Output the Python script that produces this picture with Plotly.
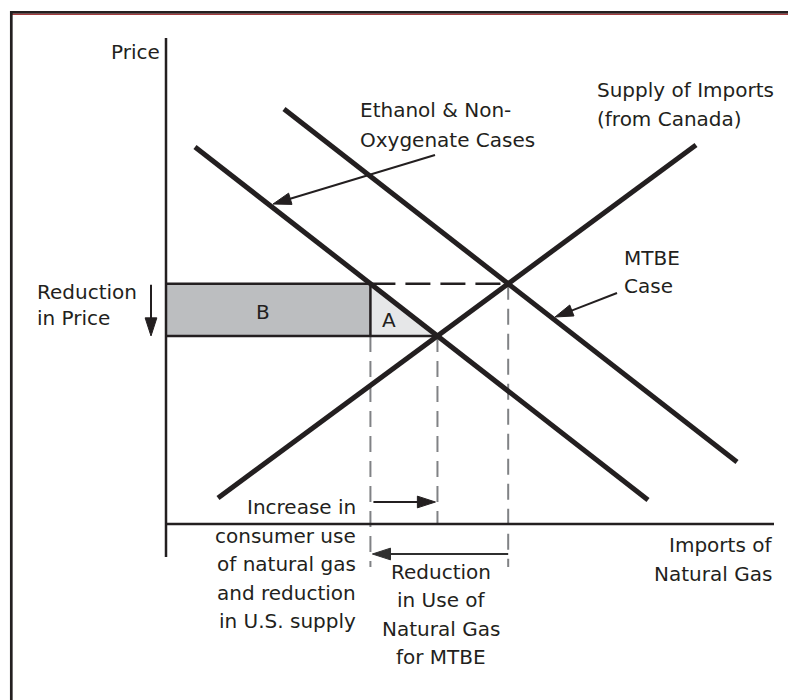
import numpy as np
import plotly.graph_objects as go

W, H = 788, 700
OX, OY = 166, 524  # pixel position of the diagram origin (axes corner)

# ---- Diagram data (quantity, price), origin at the axes corner ----
supply_q = [52, 530]
supply_p = [26, 379]
ethanol_q = [29, 482]
ethanol_p = [377, 24]
mtbe_q = [118, 571]
mtbe_p = [415, 62]

price_axis_p = [486, -33]
quantity_axis_q = [0, 608]

INK = "#231f20"
GREY = "#808285"
FONT = "DejaVu Sans"
FS = 20


def line_coef(q, p):
    m = (p[1] - p[0]) / (q[1] - q[0])
    return m, p[0] - m * q[0]


def intersect(a, b):
    m1, c1 = line_coef(*a)
    m2, c2 = line_coef(*b)
    q = (c2 - c1) / (m1 - m2)
    return q, m1 * q + c1


def q_at(line, p):
    m, c = line_coef(*line)
    return (p - c) / m


S = (supply_q, supply_p)
D_eth = (ethanol_q, ethanol_p)
D_mtbe = (mtbe_q, mtbe_p)
q_new, p_new = intersect(S, D_eth)     # equilibrium, ethanol case
q_old, p_old = intersect(S, D_mtbe)    # equilibrium, MTBE case
q_dem = q_at(D_eth, p_old)             # ethanol demand at the old price


def X(px):
    return px - OX


def Y(py):
    return OY - py


fig = go.Figure()

# Area B
fig.add_trace(go.Scatter(x=[0, q_dem, q_dem, 0, 0], y=[p_old, p_old, p_new, p_new, p_old],
                         fill="toself", fillcolor="#bcbec0", mode="lines",
                         line=dict(width=0), hoverinfo="skip"))
# Area A
fig.add_trace(go.Scatter(x=[q_dem, q_dem, q_new, q_dem], y=[p_old, p_new, p_new, p_old],
                         fill="toself", fillcolor="#e6e7e8", mode="lines",
                         line=dict(width=0), hoverinfo="skip"))

# grey vertical dashed guides
bottom = Y(567)
for xs, ys in [([q_dem, q_dem], [p_new, bottom]),
               ([q_new, q_new], [p_new, 0]),
               ([q_old, q_old], [p_old, bottom])]:
    fig.add_trace(go.Scatter(x=xs, y=ys, mode="lines",
                             line=dict(color=GREY, width=2, dash="16px,9px"), hoverinfo="skip"))

# old price dashed line
fig.add_trace(go.Scatter(x=[q_dem, q_old], y=[p_old, p_old], mode="lines",
                         line=dict(color=INK, width=2.5, dash="25px,10px"), hoverinfo="skip"))

# borders of B and A
fig.add_trace(go.Scatter(x=[0, q_dem, q_dem, 0, q_new], y=[p_old, p_old, p_new, p_new, p_new],
                         mode="lines", line=dict(color=INK, width=2.5), hoverinfo="skip"))

# curves
for q, p in [S, D_eth, D_mtbe]:
    fig.add_trace(go.Scatter(x=q, y=p, mode="lines", line=dict(color=INK, width=5),
                             hoverinfo="skip"))

# axes
fig.add_trace(go.Scatter(x=[0, 0], y=price_axis_p, mode="lines",
                         line=dict(color=INK, width=2.5), hoverinfo="skip"))
fig.add_trace(go.Scatter(x=quantity_axis_q, y=[0, 0], mode="lines",
                         line=dict(color=INK, width=2.5), hoverinfo="skip"))


def arrow(x0, y0, x1, y1, color=INK, size=19):
    fig.add_trace(go.Scatter(x=[x0, x1], y=[y0, y1], mode="lines+markers",
                             line=dict(color=color, width=2),
                             marker=dict(symbol="arrow", size=[0, size], angleref="previous",
                                         color=color, opacity=1,
                                         line=dict(width=1, color=color)),
                             hoverinfo="skip"))


arrow(X(151), p_old - 1, X(151), p_new)                 # reduction in price
arrow(q_dem + 3, Y(502), q_new - 2, Y(502))              # increase in consumer use
arrow(q_old, Y(554), q_dem + 2, Y(554), color="#2f2f2f")  # reduction in use
arrow(X(435), Y(155), X(273), Y(204))                    # label -> ethanol curve
arrow(X(617), Y(293), X(555), Y(317))                    # label -> MTBE curve

# ---- texts ----
texts = [
    ("Price", 162, 52, "right"),
    ("Ethanol & Non-", 358, 110, "left"),
    ("Oxygenate Cases", 358, 139.5, "left"),
    ("Supply of Imports", 595, 89.5, "left"),
    ("(from Canada)", 595, 119, "left"),
    ("MTBE", 622, 257.5, "left"),
    ("Case", 622, 285.5, "left"),
    ("Reduction", 35, 291.5, "left"),
    ("in Price", 35, 318, "left"),
    ("B", 263, 312, "center"),
    ("A", 389, 320, "center"),
    ("Increase in", 358, 507, "right"),
    ("consumer use", 358, 535.5, "right"),
    ("of natural gas", 358, 564, "right"),
    ("and reduction", 358, 592.5, "right"),
    ("in U.S. supply", 358, 621, "right"),
    ("Reduction", 441, 571.5, "center"),
    ("in Use of", 441, 600, "center"),
    ("Natural Gas", 441, 628.5, "center"),
    ("for MTBE", 441, 657, "center"),
    ("Imports of", 774, 545, "right"),
    ("Natural Gas", 774, 574, "right"),
]
for t, px, py, anchor in texts:
    fig.add_annotation(x=X(px), y=Y(py), text=t, showarrow=False, xanchor=anchor,
                       yanchor="middle", font=dict(family=FONT, size=FS, color=INK))

# frame
fig.add_shape(type="line", x0=X(10), x1=X(788), y0=Y(12.3), y1=Y(12.3),
              line=dict(color=INK, width=2.7))
fig.add_shape(type="line", x0=X(10), x1=X(788), y0=Y(14.4), y1=Y(14.4),
              line=dict(color="#a23b3e", width=1.3))
fig.add_shape(type="line", x0=X(11.3), x1=X(11.3), y0=Y(11), y1=Y(700),
              line=dict(color=INK, width=2.7))

fig.update_layout(width=W, height=H, margin=dict(l=0, r=0, t=0, b=0),
                  paper_bgcolor="white", plot_bgcolor="white", showlegend=False,
                  hovermode=False,
                  xaxis=dict(range=[-OX, W - OX], visible=False, fixedrange=True),
                  yaxis=dict(range=[OY - H, OY], visible=False, fixedrange=True))

fig.write_html("out.html", config={"displayModeBar": False},
               post_script="document.body.style.margin='0px';document.body.style.overflow='hidden';")
